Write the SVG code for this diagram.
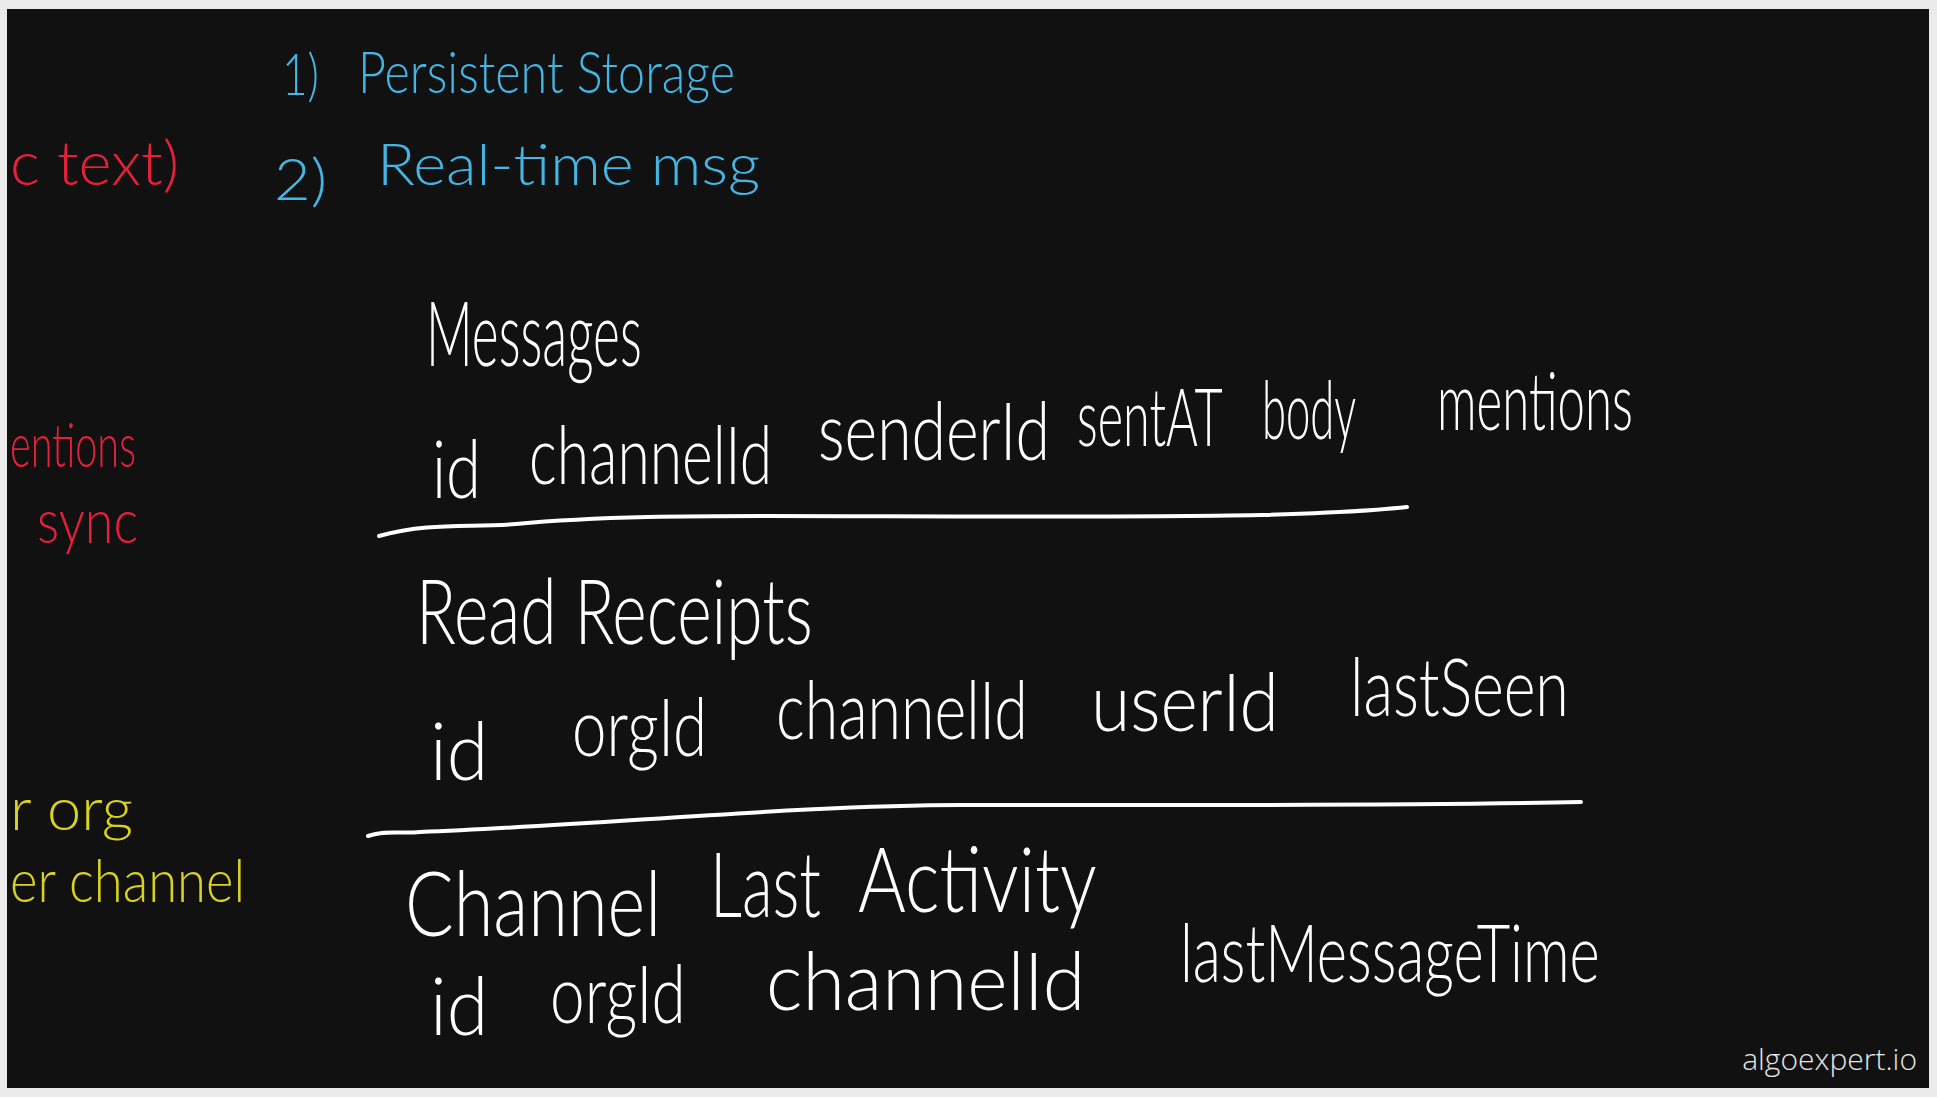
<svg xmlns="http://www.w3.org/2000/svg" width="1937" height="1097" viewBox="0 0 1937 1097">
<style>
.hw{font-family:Lato,"Open Sans","Liberation Sans",sans-serif;font-weight:300}
.blue{fill:#45b6e4;font-size:58px}
.red{fill:#e5203a;font-size:62px}
.yel{fill:#d9d21f;font-size:60px}
.wh{fill:#ffffff;font-size:80px}
.hd{fill:#ffffff;font-size:90px}
.rule{fill:none;stroke:#ffffff;stroke-width:4;stroke-linecap:round;stroke-linejoin:round}
</style>
<rect x="0" y="0" width="1937" height="1097" fill="#ebebeb"/>
<rect x="7" y="9" width="1922" height="1079" fill="#111111"/>

<g id="goals">
<text class="hw blue" x="282" y="95" textLength="37" lengthAdjust="spacingAndGlyphs">1)</text>
<text class="hw blue" x="358" y="93" textLength="377" lengthAdjust="spacingAndGlyphs">Persistent Storage</text>
<text class="hw blue" x="274" y="200" textLength="53" lengthAdjust="spacingAndGlyphs">2)</text>
<text class="hw blue" x="377" y="185" textLength="383" lengthAdjust="spacingAndGlyphs">Real-time msg</text>
</g>

<g id="side-notes">
<text class="hw red" x="10" y="185" textLength="169" lengthAdjust="spacingAndGlyphs">c text)</text>
<text class="hw red" x="10" y="467" textLength="126" lengthAdjust="spacingAndGlyphs">entions</text>
<text class="hw red" x="37" y="543" textLength="101" lengthAdjust="spacingAndGlyphs">sync</text>
<text class="hw yel" x="10" y="830" textLength="123" lengthAdjust="spacingAndGlyphs">r org</text>
<text class="hw yel" x="10" y="902" textLength="235" lengthAdjust="spacingAndGlyphs">er channel</text>
</g>

<g id="messages-table">
<text class="hw hd" transform="translate(426,366) scale(0.62,1)" textLength="348" lengthAdjust="spacingAndGlyphs">Messages</text>
<text class="hw wh" transform="translate(432,498) scale(0.62,1)" textLength="79" lengthAdjust="spacingAndGlyphs">id</text>
<text class="hw wh" transform="translate(529,484) scale(0.62,1)" textLength="392" lengthAdjust="spacingAndGlyphs">channelId</text>
<text class="hw wh" transform="translate(818,460) scale(0.62,1)" textLength="374" lengthAdjust="spacingAndGlyphs">senderId</text>
<text class="hw wh" transform="translate(1077,446) scale(0.62,1)" textLength="235" lengthAdjust="spacingAndGlyphs">sentAT</text>
<text class="hw wh" transform="translate(1262,439) scale(0.62,1)" textLength="152" lengthAdjust="spacingAndGlyphs">body</text>
<text class="hw wh" transform="translate(1437,430) scale(0.62,1)" textLength="316" lengthAdjust="spacingAndGlyphs">mentions</text>
</g>

<g id="read-receipts-table">
<text class="hw hd" transform="translate(416,644) scale(0.62,1)" textLength="640" lengthAdjust="spacingAndGlyphs">Read Receipts</text>
<text class="hw wh" transform="translate(430,780) scale(0.62,1)" textLength="94" lengthAdjust="spacingAndGlyphs">id</text>
<text class="hw wh" transform="translate(572,756) scale(0.62,1)" textLength="218" lengthAdjust="spacingAndGlyphs">orgId</text>
<text class="hw wh" transform="translate(776,739) scale(0.62,1)" textLength="406" lengthAdjust="spacingAndGlyphs">channelId</text>
<text class="hw wh" transform="translate(1091,731) scale(0.62,1)" textLength="303" lengthAdjust="spacingAndGlyphs">userId</text>
<text class="hw wh" transform="translate(1350,716) scale(0.62,1)" textLength="353" lengthAdjust="spacingAndGlyphs">lastSeen</text>
</g>

<g id="channel-last-activity-table">
<text class="hw hd" transform="translate(405,936) scale(0.62,1)" textLength="413" lengthAdjust="spacingAndGlyphs">Channel</text>
<text class="hw hd" transform="translate(710,917) scale(0.62,1)" textLength="179" lengthAdjust="spacingAndGlyphs">Last</text>
<text class="hw hd" transform="translate(858,912) scale(0.62,1)" textLength="385" lengthAdjust="spacingAndGlyphs">Activity</text>
<text class="hw wh" transform="translate(430,1035) scale(0.62,1)" textLength="94" lengthAdjust="spacingAndGlyphs">id</text>
<text class="hw wh" transform="translate(550,1023) scale(0.62,1)" textLength="219" lengthAdjust="spacingAndGlyphs">orgId</text>
<text class="hw wh" transform="translate(766,1010) scale(0.62,1)" textLength="515" lengthAdjust="spacingAndGlyphs">channelId</text>
<text class="hw wh" transform="translate(1180,982) scale(0.62,1)" textLength="677" lengthAdjust="spacingAndGlyphs">lastMessageTime</text>
</g>

<g id="connectors">
<path class="rule" d="M379,536 C430,522 470,528 516,524 C600,516 700,516 765,516 C900,516 1100,518 1262,515 C1330,513 1380,510 1407,507"/>
<path class="rule" d="M368,836 C385,830 400,834 420,832 C600,825 800,805 963,805 C1200,805 1400,806 1581,802"/>
</g>

<text x="1917" y="1070" text-anchor="end" font-family="'Open Sans','Noto Sans',sans-serif" font-weight="300" font-size="30" fill="#e6e6e6">algoexpert.io</text>
</svg>
